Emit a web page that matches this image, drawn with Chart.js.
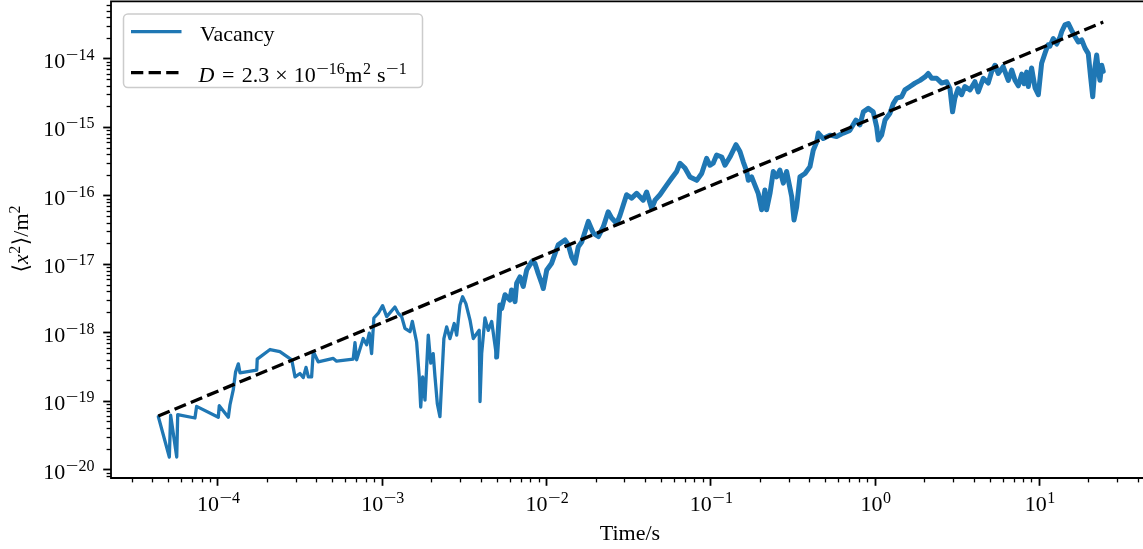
<!DOCTYPE html>
<html>
<head>
<meta charset="utf-8">
<title>Vacancy mean squared displacement</title>
<script src="https://cdn.jsdelivr.net/npm/chart.js@4.4.1/dist/chart.umd.min.js"></script>
<style>
  html, body { margin: 0; padding: 0; background: #ffffff; }
  canvas { display: block; }
</style>
</head>
<body>
<canvas id="msdChart" width="1143" height="549"></canvas>
<script>
// Vacancy trajectory: log10 of time (s) and log10 of <x^2> (m^2)
const log10Time = [
  -4.360,-4.293,-4.285,-4.248,-4.242,-4.137,-4.127,-3.995,-3.989,-3.934,-3.924,-3.904,-3.890,-3.873,-3.863,-3.761,-3.758,-3.680,-3.620,-3.548,
  -3.528,-3.498,-3.478,-3.461,-3.447,-3.427,-3.417,-3.387,-3.295,-3.275,-3.174,-3.163,-3.153,-3.113,-3.092,-3.076,-3.062,-3.048,-3.021,-2.995,
  -2.970,-2.920,-2.900,-2.879,-2.859,-2.828,-2.814,-2.788,-2.772,-2.763,-2.751,-2.737,-2.717,-2.702,-2.687,-2.676,-2.662,-2.646,-2.635,-2.622,
  -2.605,-2.585,-2.559,-2.544,-2.524,-2.508,-2.488,-2.463,-2.443,-2.407,-2.402,-2.392,-2.372,-2.352,-2.331,-2.301,-2.281,-2.270,-2.250,-2.220,
  -2.210,-2.189,-2.179,-2.159,-2.139,-2.118,-2.088,-2.068,-2.048,-2.027,-2.017,-1.996,-1.966,-1.926,-1.885,-1.865,-1.844,-1.824,-1.804,-1.783,
  -1.743,-1.713,-1.682,-1.652,-1.622,-1.601,-1.570,-1.550,-1.510,-1.479,-1.449,-1.409,-1.388,-1.357,-1.337,-1.307,-1.266,-1.236,-1.205,-1.185,
  -1.155,-1.124,-1.083,-1.053,-1.023,-1.003,-0.983,-0.962,-0.931,-0.911,-0.881,-0.844,-0.820,-0.800,-0.779,-0.769,-0.749,-0.729,-0.709,-0.688,
  -0.668,-0.658,-0.637,-0.617,-0.597,-0.577,-0.556,-0.536,-0.505,-0.491,-0.475,-0.455,-0.424,-0.394,-0.374,-0.353,-0.343,-0.313,-0.272,-0.232,
  -0.191,-0.151,-0.114,-0.090,-0.069,-0.039,-0.009, 0.012, 0.022, 0.042, 0.063, 0.093, 0.113, 0.134, 0.164, 0.184, 0.215, 0.245, 0.276, 0.306,
   0.326, 0.347, 0.377, 0.408, 0.438, 0.458, 0.474, 0.488, 0.508, 0.529, 0.549, 0.580, 0.610, 0.630, 0.661, 0.691, 0.712, 0.732, 0.752, 0.782,
   0.813, 0.834, 0.854, 0.874, 0.895, 0.909, 0.925, 0.935, 0.955, 0.976, 0.996, 1.016, 1.037, 1.055, 1.067, 1.087, 1.108, 1.128, 1.138, 1.158,
   1.178, 1.199, 1.219, 1.239, 1.260, 1.280, 1.300, 1.315, 1.327, 1.341, 1.351, 1.361, 1.371, 1.382, 1.391
];
const log10Msd = [
  -19.23,-19.82,-19.21,-19.82,-19.20,-19.25,-19.08,-19.24,-19.07,-19.24,-19.06,-18.84,-18.58,-18.46,-18.59,-18.55,-18.39,-18.25,-18.28,-18.40,
  -18.65,-18.60,-18.66,-18.51,-18.65,-18.65,-18.28,-18.43,-18.38,-18.42,-18.39,-18.15,-18.40,-18.09,-18.18,-18.01,-18.31,-17.79,-17.72,-17.61,
  -17.77,-17.63,-17.72,-17.77,-17.94,-17.99,-17.84,-18.14,-18.65,-19.09,-18.65,-18.99,-18.04,-18.45,-18.31,-18.65,-19.04,-19.23,-18.70,-18.09,
  -17.92,-18.09,-17.87,-18.04,-17.60,-17.48,-17.58,-17.82,-18.09,-17.97,-19.01,-18.31,-17.79,-17.97,-17.84,-18.36,-17.60,-17.65,-17.45,-17.53,
  -17.38,-17.55,-17.28,-17.19,-17.33,-17.09,-16.97,-16.99,-17.14,-17.28,-17.36,-17.09,-16.99,-16.72,-16.65,-16.72,-16.90,-16.99,-16.75,-16.68,
  -16.38,-16.55,-16.60,-16.46,-16.24,-16.33,-16.41,-16.29,-15.99,-16.04,-15.97,-16.07,-15.95,-16.19,-16.07,-15.99,-15.85,-15.75,-15.65,-15.53,
  -15.60,-15.73,-15.78,-15.68,-15.46,-15.56,-15.53,-15.41,-15.44,-15.56,-15.44,-15.26,-15.36,-15.51,-15.65,-15.78,-15.73,-15.85,-15.97,-16.21,
  -15.92,-16.21,-15.97,-15.65,-15.73,-15.63,-15.82,-15.65,-16.02,-16.36,-16.17,-15.73,-15.68,-15.58,-15.34,-15.22,-15.09,-15.17,-15.12,-15.14,
  -15.09,-15.05,-14.90,-14.97,-14.78,-14.73,-14.78,-15.00,-15.19,-15.12,-14.90,-14.80,-14.66,-14.58,-14.56,-14.46,-14.41,-14.36,-14.32,-14.27,
  -14.22,-14.29,-14.29,-14.36,-14.34,-14.44,-14.78,-14.58,-14.44,-14.53,-14.41,-14.46,-14.34,-14.49,-14.29,-14.36,-14.19,-14.10,-14.22,-14.12,
  -14.32,-14.17,-14.32,-14.40,-14.23,-14.37,-14.20,-14.41,-14.14,-14.43,-14.53,-14.07,-13.92,-13.80,-13.82,-13.71,-13.79,-13.69,-13.61,-13.51,
  -13.49,-13.59,-13.68,-13.76,-13.73,-13.85,-13.93,-14.29,-14.56,-14.12,-13.95,-14.17,-14.32,-14.10,-14.19
];

// Fitted diffusion coefficient (m^2 s^-1); 3D random walk: <x^2> = 6 D t
const D = 2.3e-16;

// Decade tick exponents and axis limits (log10)
const xTickExponents = [-4, -3, -2, -1, 0, 1];
const yTickExponents = [-20, -19, -18, -17, -16, -15, -14];
const xLimitsLog = [-4.648, 1.633];
const yLimitsLog = [-20.126, -13.166];

const seriesLabels = ['Vacancy', 'D = 2.3 × 10⁻¹⁶m² s⁻¹'];

const BLUE = '#1f77b4';
const SERIF = '"Liberation Serif", "Times New Roman", "DejaVu Serif", serif';
const FS = 22;       // main text size
const FS_SUP = 16;   // superscript size
const SUP_RISE = 8;
const MINUS_STRETCH = 1.4; // math minus is wider than the text glyph

const vacancyPoints = log10Time.map((lt, i) => ({ x: Math.pow(10, lt), y: Math.pow(10, log10Msd[i]) }));
const tStart = Math.pow(10, log10Time[0]);
const tEnd = Math.pow(10, log10Time[log10Time.length - 1]);
const fitPoints = [tStart, tEnd].map(t => ({ x: t, y: 6 * D * t }));

function setFont(ctx, r) {
  ctx.font = (r.italic ? 'italic ' : '') + (r.sup ? FS_SUP : FS) + 'px ' + SERIF;
}
// width of one run, with a stretched leading minus sign
function runWidth(ctx, r) {
  setFont(ctx, r);
  if (r.t.startsWith('\u2212')) {
    return ctx.measureText('\u2212').width * MINUS_STRETCH + ctx.measureText(r.t.slice(1)).width;
  }
  return ctx.measureText(r.t).width;
}
function drawRun(ctx, r, x, y) {
  setFont(ctx, r);
  const yy = r.sup ? y - SUP_RISE : y;
  if (r.t.startsWith('\u2212')) {
    const mw = ctx.measureText('\u2212').width;
    ctx.save();
    ctx.translate(x, yy);
    ctx.scale(MINUS_STRETCH, 1);
    ctx.fillText('\u2212', 0, 0);
    ctx.restore();
    ctx.fillText(r.t.slice(1), x + mw * MINUS_STRETCH, yy);
  } else {
    ctx.fillText(r.t, x, yy);
  }
}
// Draws a sequence of text runs left to right; r.gap adds space after a run
function drawRuns(ctx, runs, x, y) {
  let cx = x;
  for (const r of runs) {
    drawRun(ctx, r, cx, y);
    cx += runWidth(ctx, r) + (r.gap || 0);
  }
  return cx - x;
}
function measureRuns(ctx, runs) {
  let w = 0;
  for (const r of runs) w += runWidth(ctx, r) + (r.gap || 0);
  return w;
}
function powerRuns(exp) {
  return [{ t: '10', gap: 0.5 }, { t: (exp < 0 ? '\u2212' : '') + Math.abs(exp), sup: true }];
}

const axesPlugin = {
  id: 'mplAxes',
  afterDraw(chart) {
    const ctx = chart.ctx;
    const xs = chart.scales.x, ys = chart.scales.y;
    const a = chart.chartArea;
    ctx.save();
    ctx.fillStyle = '#000';
    ctx.strokeStyle = '#000';
    ctx.textAlign = 'left';
    ctx.textBaseline = 'alphabetic';

    // spines (left, bottom, top)
    ctx.lineWidth = 1.8;
    ctx.lineCap = 'square';
    ctx.beginPath();
    ctx.moveTo(a.right + 2, a.top);
    ctx.lineTo(a.left, a.top);
    ctx.lineTo(a.left, a.bottom);
    ctx.lineTo(a.right + 2, a.bottom);
    ctx.stroke();
    ctx.lineCap = 'butt';

    // x ticks
    for (let e = Math.floor(xLimitsLog[0]); e <= Math.ceil(xLimitsLog[1]); e++) {
      for (let k = 1; k <= 9; k++) {
        const v = k * Math.pow(10, e);
        const lv = Math.log10(v);
        if (lv < xLimitsLog[0] || lv > xLimitsLog[1]) continue;
        const px = Math.round(xs.getPixelForValue(v)) + 0.5;
        const major = k === 1;
        ctx.lineWidth = major ? 1.8 : 1.3;
        ctx.beginPath();
        ctx.moveTo(px, a.bottom);
        ctx.lineTo(px, a.bottom + (major ? 7.8 : 4.4));
        ctx.stroke();
      }
    }
    // y ticks
    for (let e = Math.floor(yLimitsLog[0]); e <= Math.ceil(yLimitsLog[1]); e++) {
      for (let k = 1; k <= 9; k++) {
        const v = k * Math.pow(10, e);
        const lv = Math.log10(v);
        if (lv < yLimitsLog[0] || lv > yLimitsLog[1]) continue;
        const py = Math.round(ys.getPixelForValue(v)) + 0.5;
        const major = k === 1;
        ctx.lineWidth = major ? 1.8 : 1.3;
        ctx.beginPath();
        ctx.moveTo(a.left, py);
        ctx.lineTo(a.left - (major ? 7.8 : 4.4), py);
        ctx.stroke();
      }
    }

    // x tick labels
    for (const e of xTickExponents) {
      const px = xs.getPixelForValue(Math.pow(10, e));
      const runs = powerRuns(e);
      const w = measureRuns(ctx, runs);
      drawRuns(ctx, runs, px - w / 2 + 1, a.bottom + 33);
    }
    // y tick labels
    for (const e of yTickExponents) {
      const py = ys.getPixelForValue(Math.pow(10, e));
      const runs = powerRuns(e);
      const w = measureRuns(ctx, runs);
      drawRuns(ctx, runs, a.left - 16.5 - w, py + 9.5);
    }

    // x axis title, centred on the full axis span
    ctx.font = FS + 'px ' + SERIF;
    ctx.textAlign = 'center';
    ctx.fillText('Time/s', 630, 540);
    ctx.textAlign = 'left';

    // y axis title, rotated
    const yTitle = [
      { t: '\u27E8' }, { t: 'x', italic: true, gap: 0.5 }, { t: '2', sup: true, gap: 0.5 },
      { t: '\u27E9' }, { t: '/m' }, { t: '2', sup: true }
    ];
    ctx.save();
    ctx.translate(28, 239);
    ctx.rotate(-Math.PI / 2);
    const yw = measureRuns(ctx, yTitle);
    drawRuns(ctx, yTitle, -yw / 2, 0);
    ctx.restore();

    // legend
    const lx = 123.5, ly = 14, lw = 299, lh = 73.5, r = 4.4;
    ctx.beginPath();
    ctx.moveTo(lx + r, ly);
    ctx.arcTo(lx + lw, ly, lx + lw, ly + lh, r);
    ctx.arcTo(lx + lw, ly + lh, lx, ly + lh, r);
    ctx.arcTo(lx, ly + lh, lx, ly, r);
    ctx.arcTo(lx, ly, lx + lw, ly, r);
    ctx.closePath();
    ctx.fillStyle = 'rgba(255,255,255,0.8)';
    ctx.fill();
    ctx.strokeStyle = '#cccccc';
    ctx.lineWidth = 1.5;
    ctx.stroke();

    ctx.lineWidth = 3.3;
    ctx.strokeStyle = BLUE;
    ctx.beginPath();
    ctx.moveTo(131, 31.7);
    ctx.lineTo(181.5, 31.7);
    ctx.stroke();
    ctx.strokeStyle = '#000';
    ctx.setLineDash([12.3, 5.3]);
    ctx.beginPath();
    ctx.moveTo(131, 72.7);
    ctx.lineTo(181.5, 72.7);
    ctx.stroke();
    ctx.setLineDash([]);

    ctx.fillStyle = '#000';
    drawRuns(ctx, [{ t: seriesLabels[0] }], 200, 40.7);
    drawRuns(ctx, [
      { t: 'D', italic: true, gap: 7.5 },
      { t: '=', gap: 7.5 },
      { t: '2.3', gap: 6 },
      { t: '×', gap: 6 },
      { t: '10', gap: 0.5 },
      { t: '\u221216', sup: true, gap: 0.5 },
      { t: 'm', gap: 0.5 },
      { t: '2', sup: true, gap: 6 },
      { t: 's', gap: 0.5 },
      { t: '\u22121', sup: true }
    ], 198.5, 81.5);

    ctx.restore();
  }
};

new Chart(document.getElementById('msdChart'), {
  type: 'line',
  data: {
    datasets: [
      {
        label: seriesLabels[1],
        data: fitPoints,
        borderColor: '#000000',
        borderWidth: 3.3,
        borderDash: [12.3, 5.3],
        borderCapStyle: 'butt',
        pointRadius: 0,
        fill: false,
        tension: 0
      },
      {
        label: seriesLabels[0],
        data: vacancyPoints,
        borderColor: BLUE,
        borderWidth: 3.3,
        borderJoinStyle: 'round',
        borderCapStyle: 'round',
        // late-time trajectory is densely sampled and reads as a heavier trace
        segment: {
          borderWidth: c => (c.p0.parsed.x > 0.005 ? 5 : 3.3)
        },
        pointRadius: 0,
        fill: false,
        tension: 0
      }
    ]
  },
  options: {
    responsive: false,
    animation: false,
    devicePixelRatio: 1,
    layout: { padding: { left: 111, top: 1.3, right: 0, bottom: 71 } },
    plugins: { legend: { display: false }, tooltip: { enabled: false } },
    scales: {
      x: { type: 'logarithmic', display: false, min: Math.pow(10, xLimitsLog[0]), max: Math.pow(10, xLimitsLog[1]) },
      y: { type: 'logarithmic', display: false, min: Math.pow(10, yLimitsLog[0]), max: Math.pow(10, yLimitsLog[1]) }
    }
  },
  plugins: [axesPlugin]
});
</script>
</body>
</html>
